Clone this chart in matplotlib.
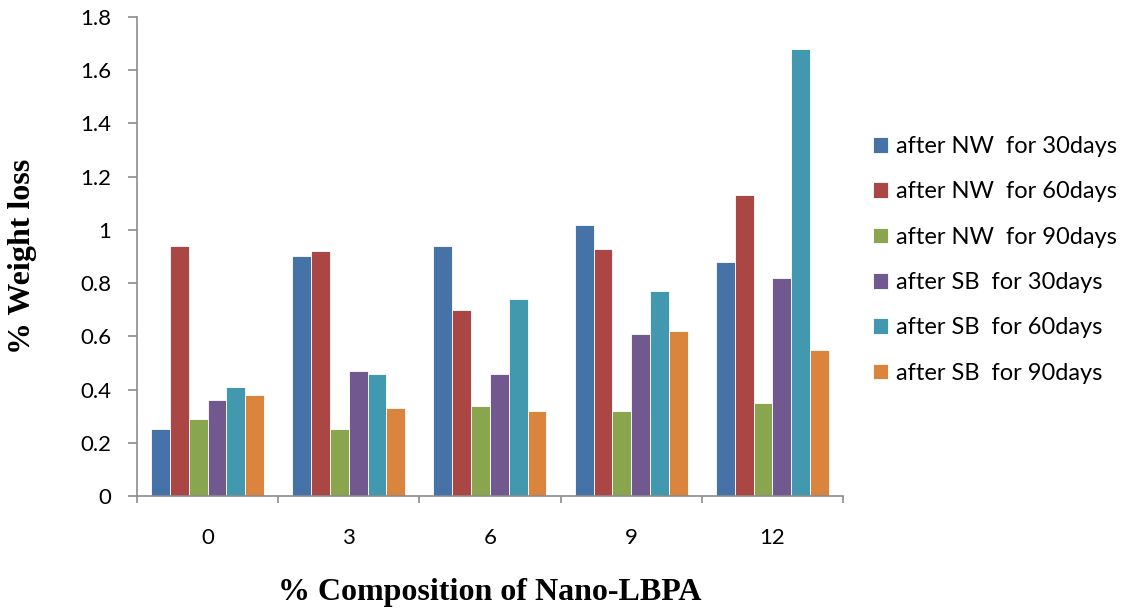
import numpy as np
import matplotlib
matplotlib.use("Agg")
import matplotlib.pyplot as plt

# ---- data ----
compositions = ["0", "3", "6", "9", "12"]
series_labels = [
    "after NW  for 30days",
    "after NW  for 60days",
    "after NW  for 90days",
    "after SB  for 30days",
    "after SB  for 60days",
    "after SB  for 90days",
]
nw_30 = [0.25, 0.90, 0.94, 1.02, 0.88]
nw_60 = [0.94, 0.92, 0.70, 0.93, 1.13]
nw_90 = [0.29, 0.25, 0.34, 0.32, 0.35]
sb_30 = [0.36, 0.47, 0.46, 0.61, 0.82]
sb_60 = [0.41, 0.46, 0.74, 0.77, 1.68]
sb_90 = [0.38, 0.33, 0.32, 0.62, 0.55]
y_ticks = [0, 0.2, 0.4, 0.6, 0.8, 1, 1.2, 1.4, 1.6, 1.8]

colors = ["#4572A7", "#AA4643", "#89A54E", "#71588F", "#4198AF", "#DB843D"]

plt.rcParams["font.family"] = ["Lato", "DejaVu Sans"]

fig = plt.figure(figsize=(11.29, 6.11), dpi=100)
ax = fig.add_axes([0.1213, 0.1882, 0.6254, 0.784])

x = np.arange(len(compositions))
all_series = [nw_30, nw_60, nw_90, sb_30, sb_60, sb_90]
n = len(all_series)
w = 0.8 / n
for i, vals in enumerate(all_series):
    ax.bar(x - 0.4 + w * (i + 0.5), vals, width=w, color=colors[i],
           edgecolor="white", linewidth=0.6, label=series_labels[i], zorder=2)

ax.set_xlim(-0.5, len(compositions) - 0.5)
ax.set_ylim(0, 1.8)
ax.set_yticks(y_ticks)
ax.set_yticklabels([f"{t:g}" for t in y_ticks], fontsize=16)
ax.set_xticks(x)
ax.set_xticklabels(compositions, fontsize=16)
ax.set_xticks(np.arange(-0.5, len(compositions)), minor=True)
ax.tick_params(axis="x", which="major", length=0, pad=23)
ax.tick_params(axis="x", which="minor", length=5, width=1.2, color="#8c8c8c")
ax.tick_params(axis="y", length=6.5, width=1.2, color="#8c8c8c", pad=12)

for side in ["top", "right"]:
    ax.spines[side].set_visible(False)
for side in ["left", "bottom"]:
    ax.spines[side].set_color("#8c8c8c")
    ax.spines[side].set_linewidth(1.2)

ax.set_xlabel("% Composition of Nano-LBPA", family="Liberation Serif",
              fontweight="bold", fontsize=23)
ax.xaxis.set_label_coords(0.5, -0.171)
ax.set_ylabel("% Weight loss", family="Liberation Serif",
              fontweight="bold", fontsize=23)
ax.yaxis.set_label_coords(-0.141, 0.5)

ax.legend(loc="center left", bbox_to_anchor=(1.0425, 0.493), frameon=False,
          fontsize=17, handlelength=0.64, handleheight=0.64,
          handletextpad=0.34, labelspacing=1.03,
          borderpad=0, borderaxespad=0)

fig.savefig("out.png", dpi=100)
